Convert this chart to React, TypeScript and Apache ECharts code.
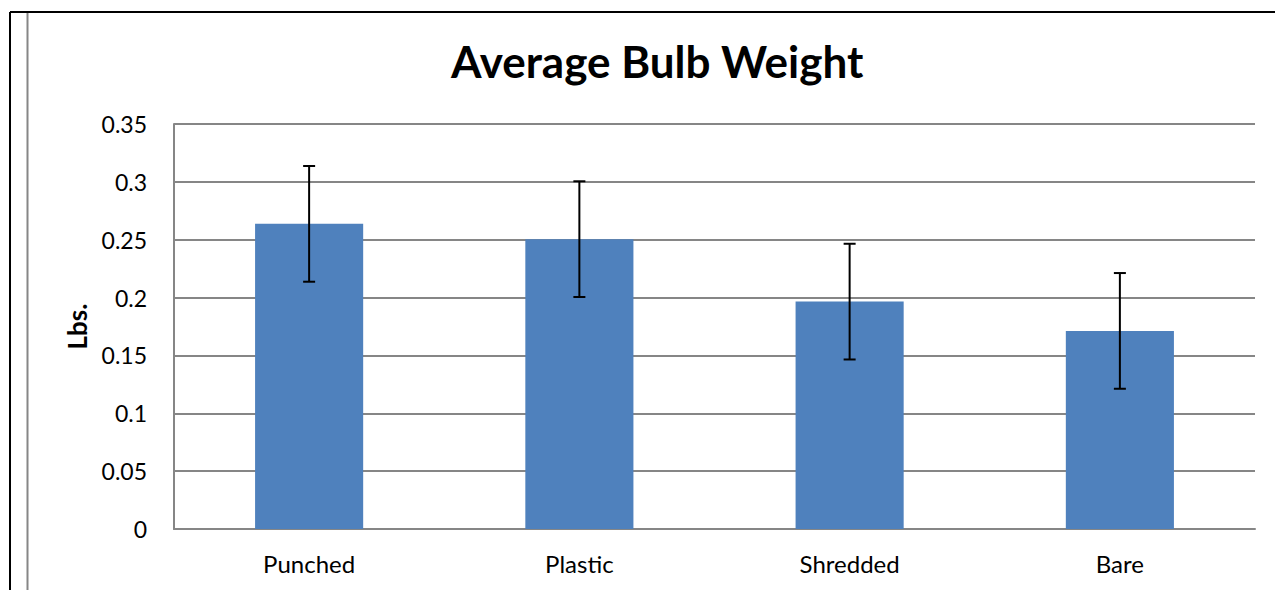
import React, { useEffect, useRef } from "react";
import * as echarts from "echarts";

const categories = ["Punched", "Plastic", "Shredded", "Bare"];
const values = [0.2637, 0.2505, 0.1965, 0.1712];
const errors = [0.05, 0.05, 0.05, 0.05];
const yTicks = { min: 0, max: 0.35, interval: 0.05 };

const FONT = "Lato";

export default function App() {
  const ref = useRef<HTMLDivElement>(null);
  useEffect(() => {
    document.body.style.margin = "0";
    const chart = echarts.init(ref.current!, null, { renderer: "svg" });
    const errData = values.map((v, i) => [i, v - errors[i], v + errors[i]]);
    chart.setOption({
      animation: false,
      backgroundColor: "#ffffff",
      title: {
        text: "Average Bulb Weight",
        left: 446,
        top: 34,
        textStyle: { fontFamily: FONT, fontWeight: "bold", fontSize: 44, color: "#000" },
      },
      grid: { left: 174, right: 20, top: 124, bottom: 61 },
      xAxis: {
        type: "category",
        data: categories,
        axisLine: { lineStyle: { color: "#868686", width: 2 } },
        axisTick: { show: false },
        axisLabel: { fontFamily: FONT, fontSize: 24, color: "#000", margin: 22 },
      },
      yAxis: {
        type: "value",
        min: yTicks.min,
        max: yTicks.max,
        interval: yTicks.interval,
        name: "Lbs.",
        nameLocation: "middle",
        nameRotate: 90,
        nameGap: 84,
        nameTextStyle: { fontFamily: FONT, fontWeight: "bold", fontSize: 26, color: "#000" },
        axisLine: { show: true, lineStyle: { color: "#868686", width: 2 } },
        axisTick: { show: false },
        splitLine: { lineStyle: { color: "#868686", width: 2 } },
        axisLabel: {
          fontFamily: FONT,
          fontSize: 23,
          color: "#000",
          margin: 27,
          formatter: (v: number) => String(parseFloat(v.toFixed(2))),
        },
      },
      series: [
        {
          type: "bar",
          data: values,
          barWidth: "40%",
          itemStyle: { color: "#4F81BD" },
        },
        {
          type: "custom",
          data: errData,
          z: 10,
          renderItem: (params: any, api: any) => {
            const x = api.value(0);
            const lo = api.coord([x, api.value(1)]);
            const hi = api.coord([x, api.value(2)]);
            const cap = 6;
            const style = { stroke: "#000", lineWidth: 2 };
            return {
              type: "group",
              children: [
                { type: "line", shape: { x1: lo[0], y1: lo[1], x2: hi[0], y2: hi[1] }, style },
                { type: "line", shape: { x1: lo[0] - cap, y1: lo[1], x2: lo[0] + cap, y2: lo[1] }, style },
                { type: "line", shape: { x1: hi[0] - cap, y1: hi[1], x2: hi[0] + cap, y2: hi[1] }, style },
              ],
            };
          },
        },
      ],
      graphic: [
        { type: "line", shape: { x1: 10, y1: 12, x2: 1275, y2: 12 }, style: { stroke: "#000", lineWidth: 2 } },
        { type: "line", shape: { x1: 10, y1: 12, x2: 10, y2: 590 }, style: { stroke: "#000", lineWidth: 2 } },
        { type: "line", shape: { x1: 27.5, y1: 13, x2: 27.5, y2: 590 }, style: { stroke: "#868686", lineWidth: 2 } },
      ],
    });
    return () => chart.dispose();
  }, []);
  return <div ref={ref} style={{ position: "fixed", left: 0, top: 0, width: 1275, height: 590 }} />;
}
